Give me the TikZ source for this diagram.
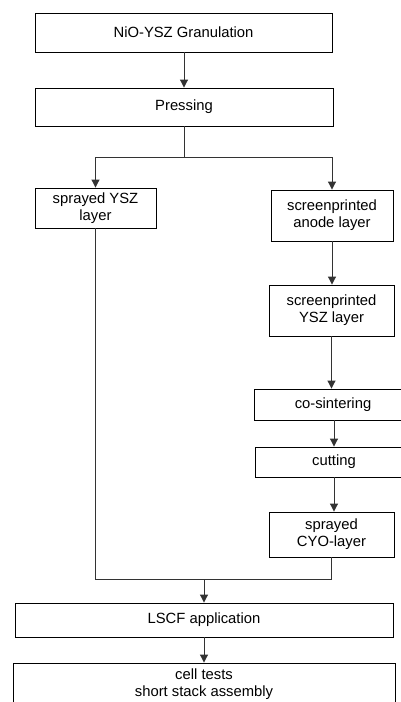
\documentclass[tikz,border=0pt]{standalone}
\usepackage{fontspec}
\setmainfont{Liberation Sans}
\usetikzlibrary{arrows.meta}
\begin{document}
\begin{tikzpicture}[x=1pt,y=-1pt,
  stepbox/.style={draw=black,line width=0.9pt,fill=white,inner sep=0pt,
    font=\fontsize{14.8}{17}\selectfont,align=center},
  conn/.style={line width=1pt,draw=black!80},
  arr/.style={conn,-{Triangle[width=8pt,length=8pt]}}]
\useasboundingbox (0,0) rectangle (401,702);
\clip (0,0) rectangle (401,702);
\node[stepbox,minimum width=297pt,minimum height=39pt] (g) at (183.5,32.5) {NiO-YSZ Granulation};
\node[stepbox,minimum width=298pt,minimum height=38pt] (p) at (184,107) {Pressing};
\node[stepbox,minimum width=121pt,minimum height=40pt] (s) at (95.5,208) {sprayed YSZ\\layer};
\node[stepbox,minimum width=122pt,minimum height=51pt] (a) at (332,215.5) {screenprinted\\anode layer};
\node[stepbox,minimum width=125pt,minimum height=51pt] (y) at (331.5,310.5) {screenprinted\\YSZ layer};
\node[stepbox,minimum width=158pt,minimum height=31pt] (c) at (333,404.5) {co-sintering};
\node[stepbox,minimum width=158pt,minimum height=30pt] (t) at (334,462) {cutting};
\node[stepbox,minimum width=125pt,minimum height=45pt] (o) at (331.5,534.5) {sprayed\\CYO-layer};
\node[stepbox,minimum width=378pt,minimum height=34pt] (l) at (204,620) {LSCF application};
\node[stepbox,minimum width=382pt,minimum height=42pt] (e) at (204,684) {cell tests\\short stack assembly};
\coordinate (br) at (184,157);
\coordinate (m) at (204,579);
\draw[arr] (g.south -| p.south) -- (p.north);
\draw[conn] (p.south) -- (br);
\draw[arr] (br) -| (s.north);
\draw[arr] (br) -| (a.north);
\draw[arr] (a.south) -- (a.south |- y.north);
\draw[arr] (y.south) -- (y.south |- c.north);
\draw[arr] (c.south -| t.north) -- (t.north);
\draw[arr] (t.south) -- (t.south |- o.north);
\draw[conn] (s.south) |- (m);
\draw[conn] (o.south) |- (m);
\draw[arr] (m) -- (l.north);
\draw[arr] (l.south) -- (l.south |- e.north);
\end{tikzpicture}
\end{document}
